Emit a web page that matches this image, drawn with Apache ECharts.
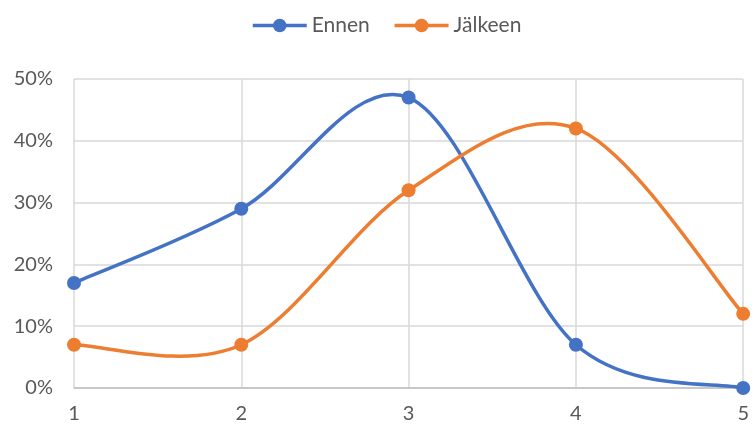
<!DOCTYPE html>
<html>
<head>
<meta charset="utf-8">
<script src="https://cdn.jsdelivr.net/npm/echarts@6/dist/echarts.min.js"></script>
<style>
  html, body { margin: 0; padding: 0; background: #fff; }
  #chart { width: 752px; height: 427px; }
</style>
</head>
<body>
<div id="chart"></div>
<script>
// Category labels (x axis)
const categories = ['1', '2', '3', '4', '5'];
// Share of respondents per category, in percent
const ennen = [17, 29, 47, 7, 0];
const jalkeen = [7, 7, 32, 42, 12];

const FONT = 'Lato, "Open Sans", sans-serif';
const TEXT = '#595959';
const BLUE = '#4472C4';
const ORANGE = '#ED7D31';
const LINE_W = 3.5;

const chart = echarts.init(document.getElementById('chart'), null, { renderer: 'canvas' });

// Markers (and legend entry) for a series; the connecting curve is drawn separately.
function markerSeries(name, data, color) {
  return {
    name: name,
    type: 'line',
    data: data,
    symbol: 'circle',
    symbolSize: 14,
    lineStyle: { color: color, width: LINE_W, opacity: 0 },
    itemStyle: { color: color },
    emphasis: { disabled: true },
    z: 4
  };
}

// Cardinal-spline curve through the points (tension 1/6), one bezier per segment,
// with the end points duplicated at both ends.
function curveSeries(name, data, color) {
  return {
    name: name,
    type: 'custom',
    data: data.slice(0, -1).map((v, i) => [i, v]),
    clip: false,
    z: 3,
    silent: true,
    renderItem: function (params, api) {
      const i = params.dataIndex;
      const n = data.length;
      const pt = k => api.coord([Math.max(0, Math.min(n - 1, k)), data[Math.max(0, Math.min(n - 1, k))]]);
      const p0 = pt(i - 1), p1 = pt(i), p2 = pt(i + 1), p3 = pt(i + 2);
      return {
        type: 'bezierCurve',
        shape: {
          x1: p1[0], y1: p1[1],
          x2: p2[0], y2: p2[1],
          cpx1: p1[0] + (p2[0] - p0[0]) / 6,
          cpy1: p1[1] + (p2[1] - p0[1]) / 6,
          cpx2: p2[0] - (p3[0] - p1[0]) / 6,
          cpy2: p2[1] - (p3[1] - p1[1]) / 6
        },
        style: { stroke: color, lineWidth: LINE_W, fill: null, lineCap: 'round' }
      };
    }
  };
}

chart.setOption({
  animation: false,
  backgroundColor: '#ffffff',
  legend: {
    top: 10,
    left: 246,
    itemWidth: 54,
    itemHeight: 17,
    itemGap: 23,
    textStyle: { color: TEXT, fontSize: 21, fontFamily: FONT },
    data: [
      { name: 'Ennen', lineStyle: { opacity: 1, width: LINE_W, color: BLUE } },
      { name: 'Jälkeen', lineStyle: { opacity: 1, width: LINE_W, color: ORANGE } }
    ]
  },
  grid: { left: 74, right: 7, top: 79, bottom: 39 },
  xAxis: {
    type: 'category',
    data: categories,
    boundaryGap: false,
    axisLine: { lineStyle: { color: '#bfbfbf', width: 1.5 } },
    axisTick: { show: false },
    axisLabel: { color: TEXT, fontSize: 20, fontFamily: FONT, margin: 16 },
    splitLine: { show: true, lineStyle: { color: '#d9d9d9', width: 1.5 } }
  },
  yAxis: {
    type: 'value',
    min: 0,
    max: 50,
    interval: 10,
    axisLine: { show: false },
    axisTick: { show: false },
    axisLabel: { color: TEXT, fontSize: 20, fontFamily: FONT, margin: 21, formatter: '{value}%' },
    splitLine: { lineStyle: { color: '#d9d9d9', width: 1.5 } }
  },
  series: [
    markerSeries('Ennen', ennen, BLUE),
    markerSeries('Jälkeen', jalkeen, ORANGE),
    curveSeries('Ennen', ennen, BLUE),
    curveSeries('Jälkeen', jalkeen, ORANGE)
  ]
});
</script>
</body>
</html>
